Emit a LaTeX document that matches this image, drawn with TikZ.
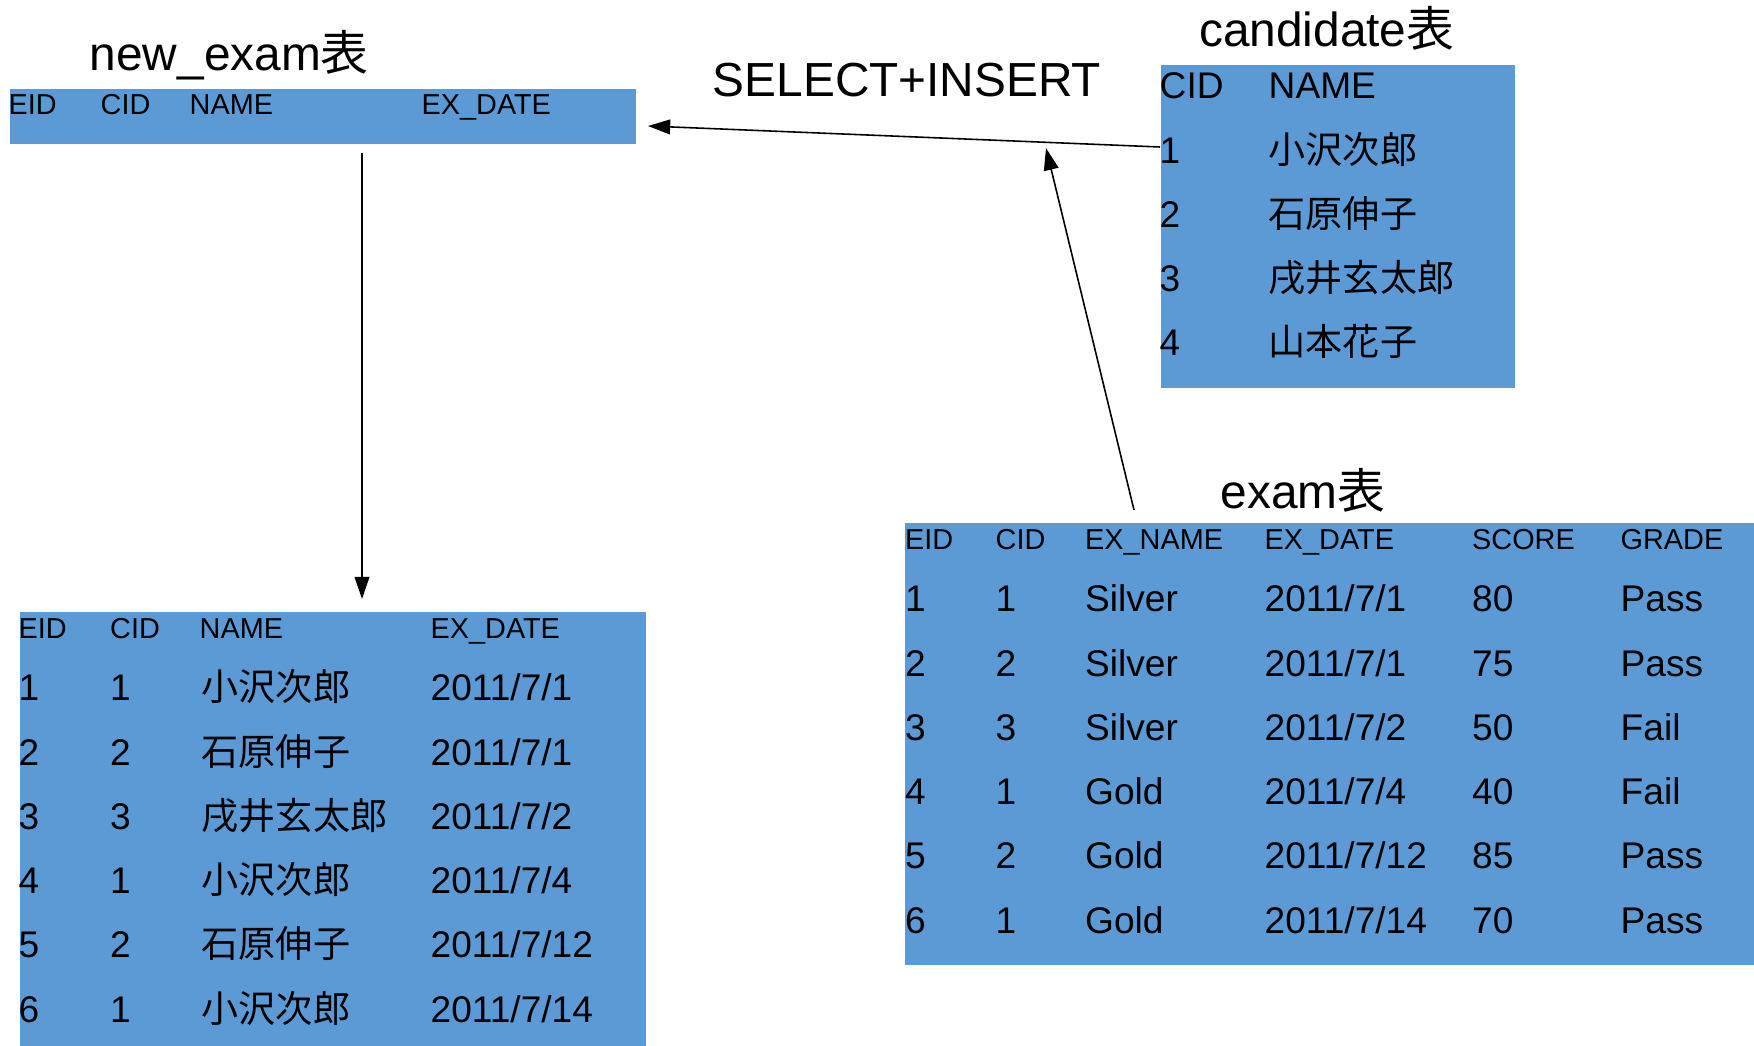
\documentclass[tikz,border=0pt]{standalone}
\usepackage{fontspec}
\setmainfont{Liberation Sans}
\newfontfamily\cjk{Noto Sans CJK JP}
\usetikzlibrary{arrows.meta}

\definecolor{tblblue}{RGB}{91,154,213}

\tikzset{
    ttl/.style={anchor=base west, inner sep=0pt, font=\fontsize{13.6}{16}\selectfont},
    hd/.style={anchor=base west, inner sep=0pt, font=\fontsize{8.2}{10}\selectfont},
    cell/.style={anchor=base west, inner sep=0pt, font=\fontsize{10.55}{12}\selectfont},
    link/.style={-{Triangle[length=6.3pt,width=4.2pt]}, line width=0.45pt},
}

\begin{document}
\begin{tikzpicture}[x=0.01cm, y=-0.01cm]
    \useasboundingbox (0,0) rectangle (1754,1046);

    % Draw Table Boxes
    \fill[tblblue] (10,89) rectangle (636,144);     % new_exam (empty)
    \fill[tblblue] (20,612) rectangle (646,1046);   % new_exam (filled)
    \fill[tblblue] (1161,65) rectangle (1515,388);  % candidate
    \fill[tblblue] (905,523) rectangle (1754,965);  % exam

    % Table Titles
    \node[ttl] (t-new) at (89,71) {new\_exam{\cjk 表}};
    \node[ttl] (t-cand) at (1198.5,46.7) {candidate{\cjk 表}};
    \node[ttl] (t-exam) at (1220,508.3) {exam{\cjk 表}};
    \node[ttl] (t-sql) at (712,96.7) {SELECT+INSERT};

    % new_exam (empty) header
    \node[hd] (nh-eid) at (8,115) {EID};
    \node[hd] (nh-cid) at (100,115) {CID};
    \node[hd] (nh-name) at (189,115) {NAME};
    \node[hd] (nh-date) at (421,115) {EX\_DATE};

    % new_exam (filled) header + rows
    \node[hd] (ne-eid) at (18,638.3) {EID};
    \node[hd] (ne-cid) at (109.5,638.3) {CID};
    \node[hd] (ne-name) at (199,638.3) {NAME};
    \node[hd] (ne-date) at (430,638.3) {EX\_DATE};
    \foreach \i/\c/\n/\d in {1/1/{\cjk 小沢次郎}/{2011/7/1},
                             2/2/{\cjk 石原伸子}/{2011/7/1},
                             3/3/{\cjk 戌井玄太郎}/{2011/7/2},
                             4/1/{\cjk 小沢次郎}/{2011/7/4},
                             5/2/{\cjk 石原伸子}/{2011/7/12},
                             6/1/{\cjk 小沢次郎}/{2011/7/14}} {
        \node[cell] (ne-eid-\i) at (18,{701+64.2*(\i-1)}) {\i};
        \node[cell] (ne-cid-\i) at (109.5,{701+64.2*(\i-1)}) {\c};
        \node[cell] (ne-name-\i) at (201,{701+64.2*(\i-1)}) {\n};
        \node[cell] (ne-date-\i) at (430,{701+64.2*(\i-1)}) {\d};
    }

    % candidate header + rows
    \node[cell] (ca-cid) at (1159,98.3) {CID};
    \node[cell] (ca-name) at (1268,98.3) {NAME};
    \foreach \i/\n in {1/{\cjk 小沢次郎}, 2/{\cjk 石原伸子},
                       3/{\cjk 戌井玄太郎}, 4/{\cjk 山本花子}} {
        \node[cell] (ca-cid-\i) at (1159,{163.3+64.2*(\i-1)}) {\i};
        \node[cell] (ca-name-\i) at (1268,{163.3+64.2*(\i-1)}) {\n};
    }

    % exam header + rows
    \node[hd] (ex-eid) at (904.5,550) {EID};
    \node[hd] (ex-cid) at (995,550) {CID};
    \node[hd] (ex-name) at (1084.5,550) {EX\_NAME};
    \node[hd] (ex-date) at (1264,550) {EX\_DATE};
    \node[hd] (ex-score) at (1471.5,550) {SCORE};
    \node[hd] (ex-grade) at (1620,550) {GRADE};
    \foreach \i/\c/\n/\d/\s/\g in {1/1/Silver/{2011/7/1}/80/Pass,
                                   2/2/Silver/{2011/7/1}/75/Pass,
                                   3/3/Silver/{2011/7/2}/50/Fail,
                                   4/1/Gold/{2011/7/4}/40/Fail,
                                   5/2/Gold/{2011/7/12}/85/Pass,
                                   6/1/Gold/{2011/7/14}/70/Pass} {
        \node[cell] (ex-eid-\i) at (904.5,{611.7+64.3*(\i-1)}) {\i};
        \node[cell] (ex-cid-\i) at (995,{611.7+64.3*(\i-1)}) {\c};
        \node[cell] (ex-name-\i) at (1084.5,{611.7+64.3*(\i-1)}) {\n};
        \node[cell] (ex-date-\i) at (1264,{611.7+64.3*(\i-1)}) {\d};
        \node[cell] (ex-score-\i) at (1471.5,{611.7+64.3*(\i-1)}) {\s};
        \node[cell] (ex-grade-\i) at (1620,{611.7+64.3*(\i-1)}) {\g};
    }

    % Arrow End Points
    \coordinate (cand-out) at (1160,147);
    \coordinate (new-in) at (648,126);
    \coordinate (exam-out) at (1134,510);
    \coordinate (sql-in) at (1046,148);
    \coordinate (new-out) at (362,153);
    \coordinate (fill-in) at (362,599);

    % Arrows
    \draw[link] (cand-out) -- (new-in);
    \draw[link] (exam-out) -- (sql-in);
    \draw[link] (new-out) -- (fill-in);
\end{tikzpicture}
\end{document}
